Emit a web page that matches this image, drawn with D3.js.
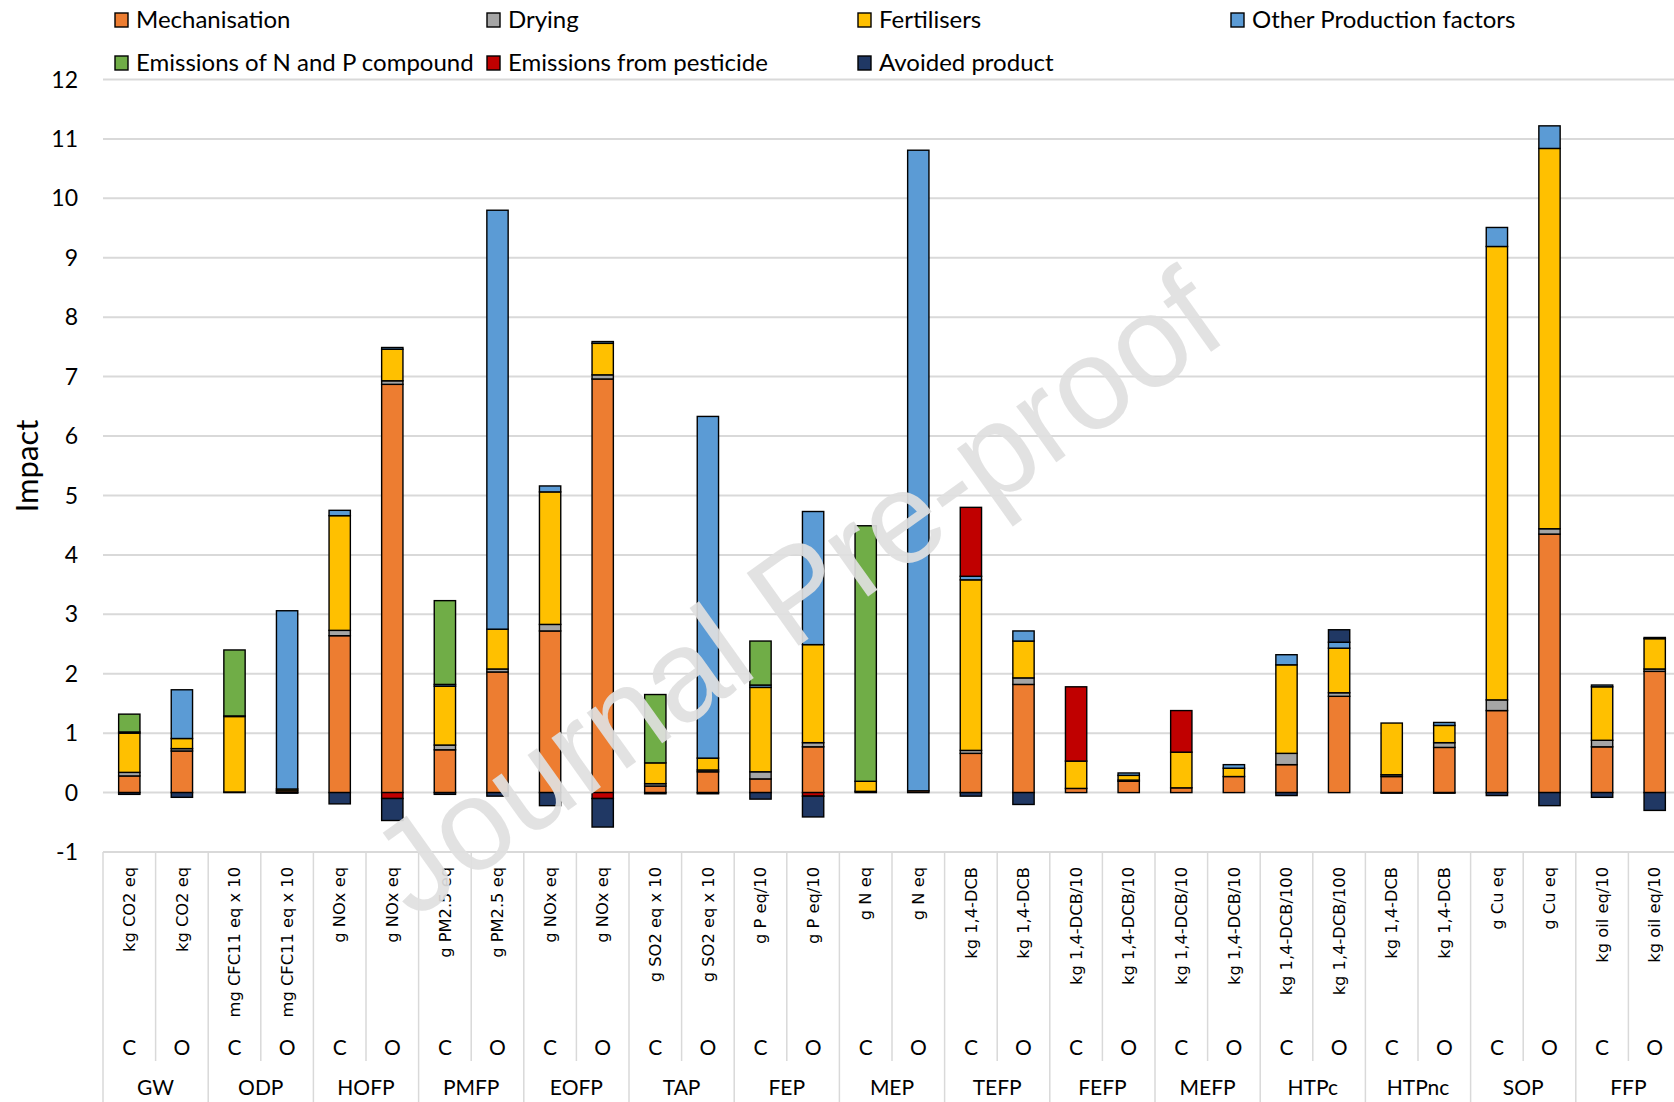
<!DOCTYPE html>
<html>
<head>
<meta charset="utf-8">
<script src="https://cdn.jsdelivr.net/npm/d3@7"></script>
<style>
  html, body { margin: 0; padding: 0; background: #fff; }
  svg { display: block; }
</style>
</head>
<body>
<svg id="chart" width="1674" height="1102"></svg>
<script>
// Impact categories (outer axis level), one C and one O bar each
const groups = ["GW", "ODP", "HOFP", "PMFP", "EOFP", "TAP", "FEP", "MEP",
                "TEFP", "FEFP", "MEFP", "HTPc", "HTPnc", "SOP", "FFP"];
const systems = ["C", "O"];
const units = [
  "kg CO2 eq", "kg CO2 eq",
  "mg CFC11 eq x 10", "mg CFC11 eq x 10",
  "g NOx eq", "g NOx eq",
  "g PM2.5 eq", "g PM2.5 eq",
  "g NOx eq", "g NOx eq",
  "g SO2 eq x 10", "g SO2 eq x 10",
  "g P eq/10", "g P eq/10",
  "g N eq", "g N eq",
  "kg 1,4-DCB", "kg 1,4-DCB",
  "kg 1,4-DCB/10", "kg 1,4-DCB/10",
  "kg 1,4-DCB/10", "kg 1,4-DCB/10",
  "kg 1,4-DCB/100", "kg 1,4-DCB/100",
  "kg 1,4-DCB", "kg 1,4-DCB",
  "g Cu eq", "g Cu eq",
  "kg oil eq/10", "kg oil eq/10"
];

// Contribution of each source, per bar (GW C, GW O, ODP C, ODP O, ...)
const mechanisation = [0.28, 0.70, 0.01, 0.03, 2.64, 6.87, 0.72, 2.03, 2.72, 6.96,
                       0.11, 0.35, 0.23, 0.77, 0.02, 0.03, 0.66, 1.82, 0.07, 0.19,
                       0.08, 0.27, 0.47, 1.62, 0.27, 0.76, 1.38, 4.35, 0.77, 2.04];
const drying        = [0.06, 0.04, 0, 0, 0.09, 0.06, 0.08, 0.05, 0.11, 0.07,
                       0.04, 0.03, 0.12, 0.07, 0, 0, 0.05, 0.11, 0, 0.02,
                       0, 0, 0.19, 0.06, 0.03, 0.08, 0.18, 0.09, 0.11, 0.04];
const fertilisers   = [0.66, 0.17, 1.27, 0.03, 1.93, 0.53, 0.99, 0.67, 2.23, 0.53,
                       0.35, 0.20, 1.42, 1.65, 0.17, 0, 2.87, 0.62, 0.46, 0.08,
                       0.60, 0.14, 1.49, 0.75, 0.87, 0.29, 7.63, 6.40, 0.90, 0.51];
const otherFactors  = [0.02, 0.82, 0.01, 3.00, 0.09, 0.03, 0.03, 7.05, 0.10, 0.03,
                       0, 5.75, 0.04, 2.24, 0, 10.78, 0.06, 0.17, 0, 0.04,
                       0, 0.06, 0.17, 0.10, 0, 0.05, 0.32, 0.38, 0.03, 0.02];
const emissionsNP   = [0.30, 0, 1.11, 0, 0, 0, 1.41, 0, 0, 0,
                       1.15, 0, 0.74, 0, 4.30, 0, 0, 0, 0, 0,
                       0, 0, 0, 0, 0, 0, 0, 0, 0, 0];
const pesticide     = [0, 0, 0, 0, 0, -0.10, 0, 0, 0, -0.10,
                       0, 0, 0, -0.06, 0, 0, 1.16, 0, 1.25, 0,
                       0.70, 0, 0, 0, 0, 0, 0, 0, 0, 0];
const avoided       = [-0.03, -0.08, 0, -0.01, -0.19, -0.37, -0.03, -0.06, -0.22, -0.48,
                       -0.02, -0.02, -0.11, -0.35, 0, 0, -0.06, -0.20, 0, 0,
                       0, 0, -0.05, 0.21, -0.01, -0.01, -0.05, -0.22, -0.08, -0.30];

const yTicks = [-1, 0, 1, 2, 3, 4, 5, 6, 7, 8, 9, 10, 11, 12];

const seriesDefs = [
  { key: "Mechanisation", values: mechanisation, color: "#ED7D31" },
  { key: "Drying", values: drying, color: "#A5A5A5" },
  { key: "Fertilisers", values: fertilisers, color: "#FFC000" },
  { key: "Other Production factors", values: otherFactors, color: "#5B9BD5" },
  { key: "Emissions of N and P compound", values: emissionsNP, color: "#70AD47" },
  { key: "Emissions from pesticide", values: pesticide, color: "#C00000" },
  { key: "Avoided product", values: avoided, color: "#203864" }
];

// one row per bar
const rows = units.map((u, i) => {
  const r = { id: i, group: groups[Math.floor(i / 2)], system: systems[i % 2], unit: u };
  seriesDefs.forEach(s => { r[s.key] = s.values[i]; });
  return r;
});

const W = 1674, H = 1102;
const plotLeft = 103, plotRight = 1681;
const svg = d3.select("#chart");
const uiFont = "Lato, 'Open Sans', sans-serif";

const x = d3.scaleBand()
  .domain(rows.map(d => d.id))
  .range([plotLeft, plotRight])
  .paddingInner(0.595)
  .paddingOuter(0.2975);

const y = d3.scaleLinear().domain([-1, 12]).range([852, 79.5]);

const gridColor = "#d9d9d9";

// horizontal gridlines
svg.append("g")
  .selectAll("line")
  .data(yTicks)
  .join("line")
  .attr("x1", plotLeft).attr("x2", W)
  .attr("y1", d => y(d)).attr("y2", d => y(d))
  .attr("stroke", gridColor).attr("stroke-width", 2);

// y tick labels
svg.append("g")
  .selectAll("text")
  .data(yTicks)
  .join("text")
  .attr("x", 78).attr("y", d => y(d))
  .attr("dy", "0.35em")
  .attr("text-anchor", "end")
  .attr("font-family", uiFont)
  .attr("font-size", 23)
  .attr("fill", "#000")
  .text(d => d);

// y axis title
svg.append("text")
  .attr("transform", "translate(27,466) rotate(-90)")
  .attr("dy", "0.35em")
  .attr("text-anchor", "middle")
  .attr("font-family", uiFont)
  .attr("font-size", 31)
  .text("Impact");

// category axis frame: bar separators and group separators
const boxTop = y(-1);
const step = x.step();
const axisG = svg.append("g");
d3.range(rows.length + 1).forEach(k => {
  const xx = plotLeft + k * step;
  const isGroupEdge = k % 2 === 0;
  axisG.append("line")
    .attr("x1", xx).attr("x2", xx)
    .attr("y1", boxTop).attr("y2", isGroupEdge ? H : 1061)
    .attr("stroke", gridColor).attr("stroke-width", 1.5);
});

// stacked bars (positives stack up, negatives stack down)
const stack = d3.stack()
  .keys(seriesDefs.map(s => s.key))
  .offset(d3.stackOffsetDiverging);
const stacked = stack(rows);

svg.append("g")
  .selectAll("g")
  .data(stacked)
  .join("g")
  .attr("fill", (d, i) => seriesDefs[i].color)
  .selectAll("rect")
  .data(d => d.filter(p => p[1] !== p[0]))
  .join("rect")
  .attr("x", p => x(p.data.id))
  .attr("width", x.bandwidth())
  .attr("y", p => y(Math.max(p[0], p[1])))
  .attr("height", p => Math.abs(y(p[0]) - y(p[1])))
  .attr("stroke", "#000")
  .attr("stroke-width", 1.4);

// unit labels (rotated)
svg.append("g")
  .selectAll("text")
  .data(rows)
  .join("text")
  .attr("transform", d => `translate(${x(d.id) + x.bandwidth() / 2},867) rotate(-90)`)
  .attr("dy", "0.35em")
  .attr("text-anchor", "end")
  .attr("font-family", "'DejaVu Sans', Verdana, sans-serif")
  .attr("font-size", 16.3)
  .text(d => d.unit);

// C / O labels
svg.append("g")
  .selectAll("text")
  .data(rows)
  .join("text")
  .attr("x", d => x(d.id) + x.bandwidth() / 2)
  .attr("y", 1048)
  .attr("dy", "0.35em")
  .attr("text-anchor", "middle")
  .attr("font-family", uiFont)
  .attr("font-size", 21)
  .text(d => d.system);

// group labels
svg.append("g")
  .selectAll("text")
  .data(groups)
  .join("text")
  .attr("x", (g, i) => plotLeft + (2 * i + 1) * step)
  .attr("y", 1088)
  .attr("dy", "0.35em")
  .attr("text-anchor", "middle")
  .attr("font-family", uiFont)
  .attr("font-size", 21)
  .text(g => g);

// legend
const legendPos = [
  [115, 20], [487, 20], [858, 20], [1231, 20],
  [115, 63], [487, 63], [858, 63]
];
const legend = svg.append("g")
  .selectAll("g")
  .data(seriesDefs)
  .join("g")
  .attr("transform", (d, i) => `translate(${legendPos[i][0]},${legendPos[i][1]})`);
legend.append("rect")
  .attr("x", 0).attr("y", -7)
  .attr("width", 13).attr("height", 14)
  .attr("fill", d => d.color)
  .attr("stroke", "#000").attr("stroke-width", 1.4);
legend.append("text")
  .attr("x", 21).attr("y", 0)
  .attr("dy", "0.35em")
  .attr("font-family", uiFont)
  .attr("font-size", 24)
  .text(d => d.key);

// watermark
svg.append("text")
  .attr("transform", "translate(796,592) rotate(-35.5)")
  .attr("dy", "0.35em")
  .attr("text-anchor", "middle")
  .attr("font-family", "'Liberation Sans', Arial, sans-serif")
  .attr("font-size", 130)
  .attr("fill", "#e0e0e0")
  .attr("fill-opacity", 0.92)
  .text("Journal Pre-proof");
</script>
</body>
</html>
